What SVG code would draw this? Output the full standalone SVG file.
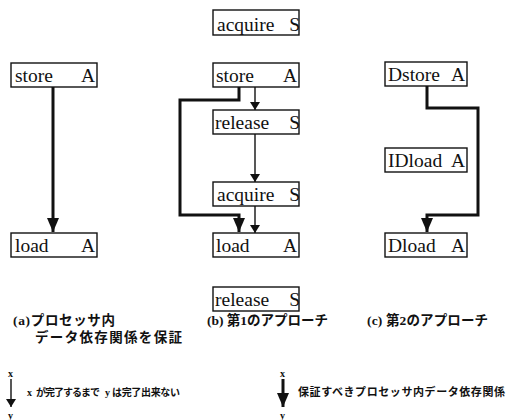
<svg xmlns="http://www.w3.org/2000/svg" width="509" height="420" viewBox="0 0 509 420">
<style>
.box{fill:#fff;stroke:#111;stroke-width:1.4}
.lbl{font-family:"Liberation Serif","Times New Roman",serif;font-size:19.5px;fill:#111}
.thin{fill:none;stroke:#111;stroke-width:1.4}
.thick{fill:none;stroke:#111;stroke-width:3}
.cap{font-family:"Liberation Serif","Noto Sans CJK JP",serif;font-size:13.5px;font-weight:bold;fill:#111}
.leg{font-family:"Liberation Serif","Noto Sans CJK JP",serif;font-size:10px;font-weight:bold;fill:#111}
.leg2{font-family:"Liberation Serif","Noto Sans CJK JP",serif;font-size:11px;font-weight:bold;fill:#111}
.xy{font-family:"Liberation Serif",serif;font-size:10px;font-weight:bold;fill:#111}
</style>
<defs>
<marker id="ah" viewBox="0 0 8 10" refX="8" refY="5" markerWidth="8" markerHeight="10" markerUnits="userSpaceOnUse" orient="auto">
<path d="M0,0 L8,5 L0,10 Z" fill="#111"/>
</marker>
<marker id="ahb" viewBox="0 0 14 12" refX="14" refY="6" markerWidth="14" markerHeight="12" markerUnits="userSpaceOnUse" orient="auto">
<path d="M0,0 L14,6 L0,12 Z" fill="#111"/>
</marker>
</defs>

<g id="connectors">
<path class="thick" d="M53,87 V232" marker-end="url(#ahb)"/>
<path class="thin" d="M255,87 V110" marker-end="url(#ah)"/>
<path class="thin" d="M255,134 V182" marker-end="url(#ah)"/>
<path class="thin" d="M255,206 V233" marker-end="url(#ah)"/>
<path class="thick" d="M239,87 V100 H180 V215 H239 V232" marker-end="url(#ahb)"/>
<path class="thick" d="M427,86 V108 H478 V215 H427 V232" marker-end="url(#ahb)"/>
</g>

<g id="a-store"><rect class="box" x="11" y="63" width="86" height="24"/><text class="lbl" x="15" y="82">store</text><text class="lbl" x="95" y="82" text-anchor="end">A</text></g>
<g id="a-load"><rect class="box" x="11" y="233" width="86" height="24"/><text class="lbl" x="15" y="252">load</text><text class="lbl" x="95" y="252" text-anchor="end">A</text></g>

<g id="b-acquire1"><rect class="box" x="213" y="10" width="86" height="25"/><text class="lbl" x="217" y="31">acquire</text><text class="lbl" x="300" y="31" text-anchor="end">S</text></g>
<g id="b-store"><rect class="box" x="213" y="63" width="86" height="24"/><text class="lbl" x="216" y="82">store</text><text class="lbl" x="297" y="82" text-anchor="end">A</text></g>
<g id="b-release1"><rect class="box" x="213" y="110" width="86" height="24"/><text class="lbl" x="215" y="129">release</text><text class="lbl" x="300" y="129" text-anchor="end">S</text></g>
<g id="b-acquire2"><rect class="box" x="213" y="182" width="86" height="24"/><text class="lbl" x="217" y="201">acquire</text><text class="lbl" x="300" y="201" text-anchor="end">S</text></g>
<g id="b-load"><rect class="box" x="213" y="233" width="86" height="24"/><text class="lbl" x="216" y="252">load</text><text class="lbl" x="297" y="252" text-anchor="end">A</text></g>
<g id="b-release2"><rect class="box" x="213" y="287" width="86" height="24"/><text class="lbl" x="215" y="306">release</text><text class="lbl" x="300" y="306" text-anchor="end">S</text></g>

<g id="c-dstore"><rect class="box" x="385" y="62" width="82" height="24"/><text class="lbl" x="388" y="81">Dstore</text><text class="lbl" x="465" y="81" text-anchor="end">A</text></g>
<g id="c-idload"><rect class="box" x="385" y="148" width="82" height="24"/><text class="lbl" x="388" y="167">IDload</text><text class="lbl" x="465" y="167" text-anchor="end">A</text></g>
<g id="c-dload"><rect class="box" x="385" y="233" width="82" height="24"/><text class="lbl" x="388" y="252">Dload</text><text class="lbl" x="465" y="252" text-anchor="end">A</text></g>

<g id="captions">
<text class="cap" x="13" y="325" textLength="102" lengthAdjust="spacing">(a)プロセッサ内</text>
<text class="cap" x="35" y="342" textLength="147" lengthAdjust="spacing">データ依存関係を保証</text>
<text class="cap" x="207" y="325" textLength="121" lengthAdjust="spacing">(b) 第1のアプローチ</text>
<text class="cap" x="367" y="325" textLength="121" lengthAdjust="spacing">(c) 第2のアプローチ</text>
</g>

<g id="legend">
<text class="xy" x="8" y="377">x</text>
<path class="thin" d="M11,379 V407" marker-end="url(#ah)"/>
<text class="xy" x="8" y="419">y</text>
<text class="leg" x="27" y="396">x</text>
<text class="leg" x="36" y="396" textLength="64" lengthAdjust="spacing">が完了するまで</text>
<text class="leg" x="105" y="396">y</text>
<text class="leg" x="112" y="396" textLength="68" lengthAdjust="spacing">は完了出来ない</text>
<text class="xy" x="280" y="377">x</text>
<path class="thick" d="M283,379 V407" marker-end="url(#ahb)"/>
<text class="xy" x="280" y="419">y</text>
<text class="leg2" x="298" y="396" textLength="207" lengthAdjust="spacing">保証すべきプロセッサ内データ依存関係</text>
</g>
</svg>
